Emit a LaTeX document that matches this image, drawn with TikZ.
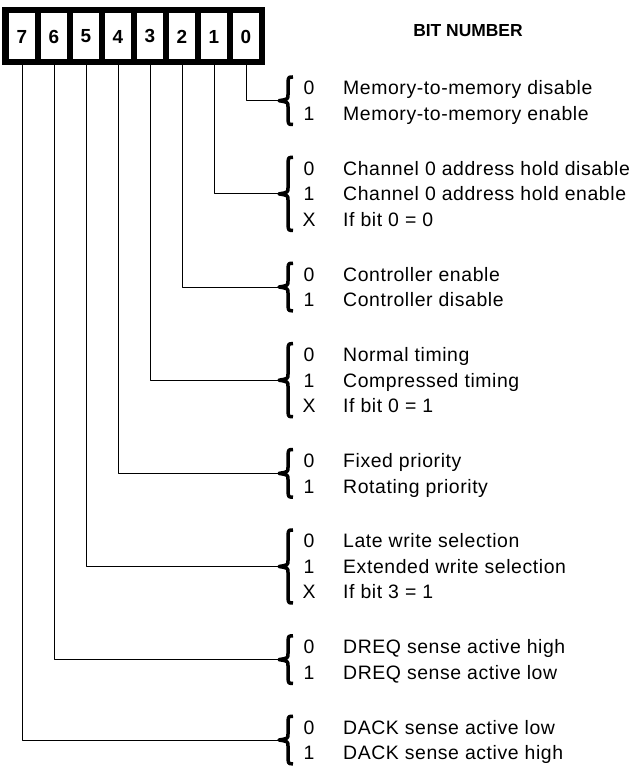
\documentclass[tikz,border=0pt]{standalone}
\usepackage{fontspec}
\setmainfont{Liberation Sans}
\newfontfamily\descfont[LetterSpace=3]{Liberation Sans}
\usepackage{tikz}
\definecolor{regblack}{RGB}{0,0,0}
% #1 top, #2 tip, #3 bottom (bp)
\newcommand{\selbrace}[3]{%
  \draw [line width=3.5bp,line join=round] (293bp,#1bp) .. controls (288.5bp,#1bp) .. (288bp,#1bp-5bp)
    -- (288bp,#2bp+6bp) .. controls (288bp,#2bp+1.5bp) .. (279bp,#2bp)
    .. controls (288bp,#2bp-1.5bp) .. (288bp,#2bp-6bp)
    -- (288bp,#3bp+5bp) .. controls (288.5bp,#3bp) .. (293bp,#3bp);}

\begin{document}
\begin{tikzpicture}[line join=bevel,
  cell/.style={fill=white,minimum width=26bp,minimum height=46bp,inner sep=0pt,font=\fontsize{19}{22}\selectfont\bfseries},
  val/.style={inner sep=0pt,text height=14bp,text depth=0bp,font=\descfont\fontsize{19.5}{23}\selectfont},
  desc/.style={val,anchor=west},
  wire/.style={line width=0.8bp}]
\useasboundingbox (0bp,0bp) rectangle (636bp,768bp);
%%
\fill [regblack] (2bp,703bp) rectangle (265bp,761bp);
\node (b7) at (22bp,731.5bp) [cell] {7};
  \node (b6) at (54bp,731.5bp) [cell] {6};
  \node (b5) at (86bp,731.5bp) [cell] {5};
  \node (b4) at (118bp,731.5bp) [cell] {4};
  \node (b3) at (150bp,731.5bp) [cell] {3};
  \node (b2) at (182bp,731.5bp) [cell] {2};
  \node (b1) at (214bp,731.5bp) [cell] {1};
  \node (b0) at (246bp,731.5bp) [cell] {0};
  \node (title) at (468bp,737bp) [font=\fontsize{17.5}{20}\selectfont\bfseries] {BIT NUMBER};
%
  \coordinate (t0) at (279bp,667.3bp);
  \selbrace{691}{667.3}{643.5}
  \node (v0a) at (309bp,680bp) [val] {0};
  \node (d0a) at (343bp,680bp) [desc] {Memory-to-memory disable};
  \node (v0b) at (309bp,654.5bp) [val] {1};
  \node (d0b) at (343bp,654.5bp) [desc] {Memory-to-memory enable};
  \draw [wire] (b0.south) |- (t0);
%
  \coordinate (t1) at (279bp,574.1bp);
  \selbrace{610.6}{574.1}{537.6}
  \node (v1a) at (309bp,599.6bp) [val] {0};
  \node (d1a) at (343bp,599.6bp) [desc] {Channel 0 address hold disable};
  \node (v1b) at (309bp,574.1bp) [val] {1};
  \node (d1b) at (343bp,574.1bp) [desc] {Channel 0 address hold enable};
  \node (v1c) at (309bp,548.6bp) [val] {X};
  \node (d1c) at (343bp,548.6bp) [desc] {If bit 0 = 0};
  \draw [wire] (b1.south) |- (t1);
%
  \coordinate (t2) at (279bp,481bp);
  \selbrace{504.7}{481}{457.2}
  \node (v2a) at (309bp,493.7bp) [val] {0};
  \node (d2a) at (343bp,493.7bp) [desc] {Controller enable};
  \node (v2b) at (309bp,468.2bp) [val] {1};
  \node (d2b) at (343bp,468.2bp) [desc] {Controller disable};
  \draw [wire] (b2.south) |- (t2);
%
  \coordinate (t3) at (279bp,387.8bp);
  \selbrace{424.3}{387.8}{351.3}
  \node (v3a) at (309bp,413.3bp) [val] {0};
  \node (d3a) at (343bp,413.3bp) [desc] {Normal timing};
  \node (v3b) at (309bp,387.8bp) [val] {1};
  \node (d3b) at (343bp,387.8bp) [desc] {Compressed timing};
  \node (v3c) at (309bp,362.3bp) [val] {X};
  \node (d3c) at (343bp,362.3bp) [desc] {If bit 0 = 1};
  \draw [wire] (b3.south) |- (t3);
%
  \coordinate (t4) at (279bp,294.6bp);
  \selbrace{318.4}{294.6}{270.9}
  \node (v4a) at (309bp,307.4bp) [val] {0};
  \node (d4a) at (343bp,307.4bp) [desc] {Fixed priority};
  \node (v4b) at (309bp,281.9bp) [val] {1};
  \node (d4b) at (343bp,281.9bp) [desc] {Rotating priority};
  \draw [wire] (b4.south) |- (t4);
%
  \coordinate (t5) at (279bp,201.5bp);
  \selbrace{238}{201.5}{165}
  \node (v5a) at (309bp,227bp) [val] {0};
  \node (d5a) at (343bp,227bp) [desc] {Late write selection};
  \node (v5b) at (309bp,201.5bp) [val] {1};
  \node (d5b) at (343bp,201.5bp) [desc] {Extended write selection};
  \node (v5c) at (309bp,176bp) [val] {X};
  \node (d5c) at (343bp,176bp) [desc] {If bit 3 = 1};
  \draw [wire] (b5.south) |- (t5);
%
  \coordinate (t6) at (279bp,108.4bp);
  \selbrace{132.1}{108.4}{84.6}
  \node (v6a) at (309bp,121.1bp) [val] {0};
  \node (d6a) at (343bp,121.1bp) [desc] {DREQ sense active high};
  \node (v6b) at (309bp,95.6bp) [val] {1};
  \node (d6b) at (343bp,95.6bp) [desc] {DREQ sense active low};
  \draw [wire] (b6.south) |- (t6);
%
  \coordinate (t7) at (279bp,28bp);
  \selbrace{51.7}{28}{4.2}
  \node (v7a) at (309bp,40.7bp) [val] {0};
  \node (d7a) at (343bp,40.7bp) [desc] {DACK sense active low};
  \node (v7b) at (309bp,15.2bp) [val] {1};
  \node (d7b) at (343bp,15.2bp) [desc] {DACK sense active high};
  \draw [wire] (b7.south) |- (t7);
%
\end{tikzpicture}
\end{document}
